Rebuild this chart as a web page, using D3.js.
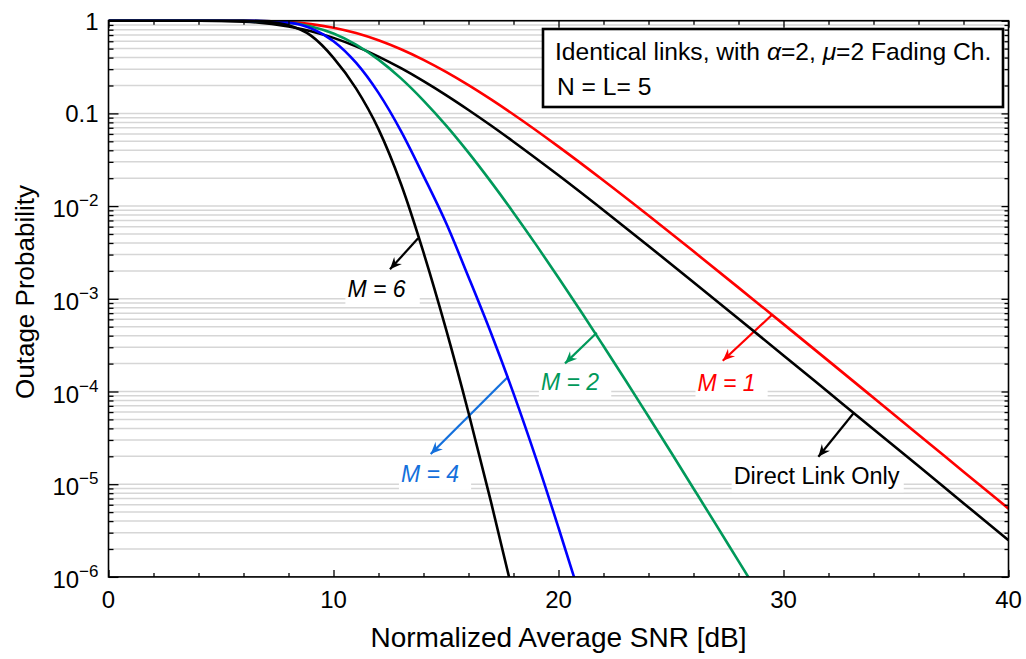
<!DOCTYPE html>
<html>
<head>
<meta charset="utf-8">
<script src="https://cdnjs.cloudflare.com/ajax/libs/d3/7.8.5/d3.min.js"></script>
<style>
  body { margin: 0; background: #fff; }
  svg { display: block; font-family: "Liberation Sans", Arial, Helvetica, sans-serif; }
</style>
</head>
<body>
<div id="area"></div>
<script>
var width = 1026,
    height = 659;

var plotLeft = 108.5,
    plotRight = 1008.5,
    plotTop = 20.7,
    plotBottom = 576.9;

// SNR grid (dB) shared by the two slow curves
var snrWide = [0, 2, 4, 6, 8, 9, 10, 11, 12, 13, 14, 15, 16, 17, 18, 20, 22, 24, 26, 28, 30, 32, 34, 36, 38, 40];

// Direct link only (black)
var directLink = [1, 1, 0.9986, 0.9756, 0.8677, 0.770, 0.6527, 0.5283, 0.4105, 0.3074, 0.2230, 0.1576, 0.1089,
                  0.0740, 0.0495, 0.02148, 0.00902, 0.003715, 0.001512, 6.10e-4, 2.45e-4, 9.8e-5, 3.92e-5,
                  1.57e-5, 6.24e-6, 2.49e-6];

// M = 1 (red)
var relayM1 = [1, 1, 1, 0.9977, 0.9667, 0.9192, 0.8414, 0.7367, 0.6156, 0.4923, 0.3782, 0.2802, 0.2016,
               0.1414, 0.0973, 0.0438, 0.01888, 0.00791, 0.00325, 0.00132, 5.33e-4, 2.14e-4, 8.56e-5,
               3.42e-5, 1.365e-5, 5.45e-6];

// M = 2 (green)
var snrM2 = [0, 4, 6, 8, 9, 10, 11, 12, 13, 14, 15, 16, 17, 18, 19, 20, 21, 22, 23, 24, 25, 26, 27, 28, 29];
var relayM2 = [1, 1, 0.9984, 0.9529, 0.8682, 0.7279, 0.5531, 0.3804, 0.2385, 0.1375, 0.0742, 0.0377, 0.01824,
               0.0085, 0.00384, 0.00169, 7.29e-4, 3.09e-4, 1.30e-4, 5.37e-5, 2.21e-5, 9.0e-6, 3.66e-6,
               1.48e-6, 6.0e-7];

// M = 4 (blue)
var snrM4 = [0, 4, 6, 8, 9, 10, 11, 12, 13, 14, 15, 16, 17, 18, 19, 20, 21];
var relayM4 = [1, 1, 0.9998, 0.954, 0.8268, 0.6013, 0.3524, 0.1664, 0.0644, 0.0212, 0.0066, 0.001718,
               4.27e-4, 9.55e-5, 1.9e-5, 3.39e-6, 5.75e-7];

// M = 6 (black, steepest)
var snrM6 = [0, 4, 6, 7, 8, 9, 10, 11, 12, 13, 14, 15, 16, 17, 18];
var relayM6 = [1, 1, 0.995, 0.973, 0.891, 0.69, 0.398, 0.186, 0.0676, 0.0173, 0.00316, 4.7e-4, 5.9e-5,
               6.44e-6, 6.3e-7];

var xMajorTicks = [0, 10, 20, 30, 40];
var xMinorTicks = [2, 4, 6, 8, 12, 14, 16, 18, 22, 24, 26, 28, 32, 34, 36, 38];
var xTickLabels = ['0', '10', '20', '30', '40'];

var yMajorTicks = [1, 0.1, 1e-2, 1e-3, 1e-4, 1e-5, 1e-6];
var yLabelBase = ['1', '0.1', '10', '10', '10', '10', '10'];
var yLabelExp = ['', '', '\u22122', '\u22123', '\u22124', '\u22125', '\u22126'];

var series = [
  {snr: snrWide, p: relayM1, color: '#ff0000'},
  {snr: snrWide, p: directLink, color: '#000000'},
  {snr: snrM2, p: relayM2, color: '#00995a'},
  {snr: snrM4, p: relayM4, color: '#0000ff'},
  {snr: snrM6, p: relayM6, color: '#000000'}
];

// Arrow annotations: arrow from a point on the curve to the label
var notes = [
  {text: 'M = 6', italic: true, color: '#000000', from: [13.76, 4.50e-3], to: [12.51, 2.08e-3], at: [11.91, 1.05e-3], pad: 16},
  {text: 'M = 2', italic: true, color: '#00995a', from: [21.70, 4.31e-4], to: [20.29, 2.01e-4], at: [20.51, 1.04e-4], pad: 14},
  {text: 'M = 4', italic: true, color: '#1470dc', from: [17.77, 1.45e-4], to: [14.32, 2.12e-5], at: [14.29, 1.06e-5], pad: 14},
  {text: 'M = 1', italic: true, color: '#ff0000', from: [29.48, 6.68e-4], to: [27.30, 2.15e-4], at: [27.47, 1.02e-4], pad: 14},
  {text: 'Direct Link Only', italic: false, color: '#000000', from: [33.13, 5.90e-5], to: [31.55, 1.98e-5], at: [31.47, 9.98e-6], pad: 6}
];

var x = d3.scaleLinear().domain([0, 40]).range([plotLeft, plotRight]);
var y = d3.scaleLog().domain([1e-6, 1]).range([plotBottom, plotTop]);

var svg = d3.select('#area').append('svg')
    .attr('width', width)
    .attr('height', height);

svg.append('rect').attr('width', width).attr('height', height).attr('fill', '#fff');

var defs = svg.append('defs');
defs.append('clipPath').attr('id', 'plotClip')
  .append('rect')
    .attr('x', plotLeft)
    .attr('y', plotTop - 3)
    .attr('width', plotRight - plotLeft)
    .attr('height', plotBottom - plotTop + 3);

// arrow heads, one per colour
var arrowColors = d3.groups(notes, function(d) { return d.color; }).map(function(g) { return g[0]; });
arrowColors.forEach(function(c, i) {
  defs.append('marker')
      .attr('id', 'head' + i)
      .attr('viewBox', '-13 -6 14 12')
      .attr('refX', 0)
      .attr('refY', 0)
      .attr('markerWidth', 14)
      .attr('markerHeight', 12)
      .attr('markerUnits', 'userSpaceOnUse')
      .attr('orient', 'auto')
    .append('path')
      .attr('d', 'M0,0 L-12,-5.2 L-8,0 L-12,5.2 Z')
      .attr('fill', c);
});

// horizontal grid at every log tick
svg.append('g').selectAll('line')
    .data(y.ticks())
  .enter().append('line')
    .attr('x1', plotLeft)
    .attr('x2', plotRight)
    .attr('y1', function(d) { return y(d); })
    .attr('y2', function(d) { return y(d); })
    .attr('stroke', '#d6d6d6')
    .attr('stroke-width', 1.5);

// white patches behind the annotation labels
var noteGroup = svg.append('g');
var noteBg = noteGroup.append('g');

// curves
var line = d3.line()
    .x(function(d) { return x(d[0]); })
    .y(function(d) { return y(d[1]); })
    .curve(d3.curveMonotoneX);

svg.append('g').attr('clip-path', 'url(#plotClip)')
  .selectAll('path')
    .data(series)
  .enter().append('path')
    .attr('d', function(s) { return line(d3.zip(s.snr, s.p)); })
    .attr('fill', 'none')
    .attr('stroke', function(s) { return s.color; })
    .attr('stroke-width', 2.6)
    .attr('stroke-linejoin', 'round');

// frame and ticks (all pointing inwards)
var yMinorTicks = y.ticks().filter(function(v) { return yMajorTicks.indexOf(v) < 0; });

function styleAxis(g) {
  g.select('.domain').remove();
  g.selectAll('.tick line').attr('stroke', '#000').attr('stroke-width', 1.3);
}

svg.append('g').attr('transform', 'translate(0,' + plotBottom + ')')
    .call(d3.axisBottom(x).tickValues(xMajorTicks).tickSize(-7).tickFormat('')).call(styleAxis);
svg.append('g').attr('transform', 'translate(0,' + plotBottom + ')')
    .call(d3.axisBottom(x).tickValues(xMinorTicks).tickSize(-4).tickFormat('')).call(styleAxis);
svg.append('g').attr('transform', 'translate(0,' + plotTop + ')')
    .call(d3.axisTop(x).tickValues(xMajorTicks).tickSize(-7).tickFormat('')).call(styleAxis);
svg.append('g').attr('transform', 'translate(0,' + plotTop + ')')
    .call(d3.axisTop(x).tickValues(xMinorTicks).tickSize(-4).tickFormat('')).call(styleAxis);
svg.append('g').attr('transform', 'translate(' + plotLeft + ',0)')
    .call(d3.axisLeft(y).tickValues(yMajorTicks).tickSize(-10).tickFormat('')).call(styleAxis);
svg.append('g').attr('transform', 'translate(' + plotLeft + ',0)')
    .call(d3.axisLeft(y).tickValues(yMinorTicks).tickSize(-5).tickFormat('')).call(styleAxis);
svg.append('g').attr('transform', 'translate(' + plotRight + ',0)')
    .call(d3.axisRight(y).tickValues(yMajorTicks).tickSize(-7).tickFormat('')).call(styleAxis);
svg.append('g').attr('transform', 'translate(' + plotRight + ',0)')
    .call(d3.axisRight(y).tickValues(yMinorTicks).tickSize(-4).tickFormat('')).call(styleAxis);

svg.append('rect')
    .attr('x', plotLeft)
    .attr('y', plotTop)
    .attr('width', plotRight - plotLeft)
    .attr('height', plotBottom - plotTop)
    .attr('fill', 'none')
    .attr('stroke', '#000')
    .attr('stroke-width', 1.6);

// tick labels
svg.append('g').selectAll('text')
    .data(xMajorTicks)
  .enter().append('text')
    .attr('x', function(d) { return x(d); })
    .attr('y', plotBottom + 31)
    .attr('text-anchor', 'middle')
    .attr('font-size', 24)
    .text(function(d, i) { return xTickLabels[i]; });

var yLab = svg.append('g').selectAll('text')
    .data(yMajorTicks)
  .enter().append('text')
    .attr('x', plotLeft - 10)
    .attr('y', function(d, i) { return y(d) + (yLabelExp[i] ? 11 : 9); })
    .attr('text-anchor', 'end')
    .attr('font-size', 24);
yLab.append('tspan').text(function(d, i) { return yLabelBase[i]; });
yLab.append('tspan')
    .attr('font-size', 17)
    .attr('dy', -11)
    .text(function(d, i) { return yLabelExp[i]; });

// axis titles
svg.append('text')
    .attr('x', (plotLeft + plotRight) / 2)
    .attr('y', 647)
    .attr('text-anchor', 'middle')
    .attr('font-size', 28)
    .text('Normalized Average SNR [dB]');

svg.append('text')
    .attr('transform', 'translate(34,' + 292 + ') rotate(-90)')
    .attr('text-anchor', 'middle')
    .attr('font-size', 26)
    .text('Outage Probability');

// annotations
notes.forEach(function(n) {
  var head = arrowColors.indexOf(n.color);
  noteGroup.append('line')
      .attr('x1', x(n.from[0]))
      .attr('y1', y(n.from[1]))
      .attr('x2', x(n.to[0]))
      .attr('y2', y(n.to[1]))
      .attr('stroke', n.color)
      .attr('stroke-width', 2.2)
      .attr('marker-end', 'url(#head' + head + ')');

  var t = noteGroup.append('text')
      .attr('x', x(n.at[0]))
      .attr('y', y(n.at[1]))
      .attr('text-anchor', 'middle')
      .attr('font-size', n.italic ? 23 : 23.5)
      .attr('font-style', n.italic ? 'italic' : 'normal')
      .attr('fill', n.color)
      .attr('xml:space', 'preserve')
      .text(n.text);

  var b = t.node().getBBox();
  noteBg.append('rect')
      .attr('x', b.x - 2)
      .attr('y', b.y)
      .attr('width', b.width + n.pad)
      .attr('height', b.height + 3)
      .attr('fill', '#fff');
});
// keep the white patches under the curves
noteBg.lower();
svg.select('rect').lower();

// legend box
var legend = svg.append('g');
legend.append('rect')
    .attr('x', 543)
    .attr('y', 29)
    .attr('width', 460)
    .attr('height', 78)
    .attr('fill', '#fff')
    .attr('stroke', '#000')
    .attr('stroke-width', 2.6);

var l1 = legend.append('text')
    .attr('x', 555)
    .attr('y', 60)
    .attr('font-size', 24.6);
l1.append('tspan').text('Identical links, with ');
l1.append('tspan').attr('font-style', 'italic').text('\u03b1');
l1.append('tspan').text('=2, ');
l1.append('tspan').attr('font-style', 'italic').text('\u03bc');
l1.append('tspan').text('=2 Fading Ch.');

legend.append('text')
    .attr('x', 557)
    .attr('y', 95)
    .attr('font-size', 24.6)
    .text('N = L= 5');
</script>
</body>
</html>
